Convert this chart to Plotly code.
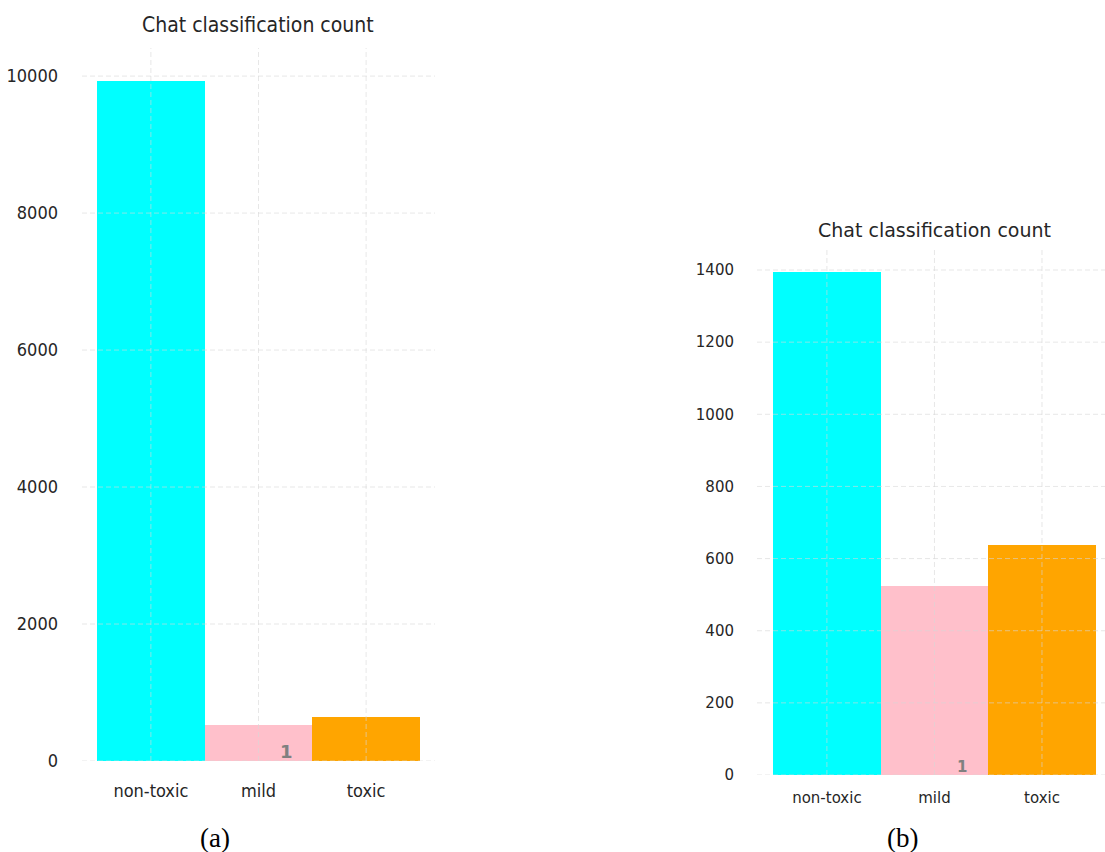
import plotly.graph_objects as go

# Chat classification counts for the two datasets
categories = ["non-toxic", "mild", "toxic"]
counts_a = [9925, 524, 637]
counts_b = [1395, 524, 637]
bar_colors = ["#00FFFF", "#FFC0CB", "#FFA500"]
ticks_a = [0, 2000, 4000, 6000, 8000, 10000]
ticks_b = [0, 200, 400, 600, 800, 1000, 1200, 1400]
marker_label = "1"
marker_label_pos = 1.26  # category offset for the small label on the mild bar
title_text = "Chat classification count"
captions = ["(a)", "(b)"]

W, H = 1105, 852
GRID = "rgba(215,215,215,0.6)"

fig = go.Figure()

fig.add_trace(go.Bar(x=[0, 1, 2], y=counts_a, marker=dict(color=bar_colors, line=dict(width=0)),
                     width=1.0, xaxis="x", yaxis="y", showlegend=False))
fig.add_trace(go.Bar(x=[0, 1, 2], y=counts_b, marker=dict(color=bar_colors, line=dict(width=0)),
                     width=1.0, xaxis="x2", yaxis="y2", showlegend=False))

left_font = dict(family="DejaVu Sans Condensed, DejaVu Sans, sans-serif", size=18, color="#262626")
right_font = dict(family="DejaVu Sans, sans-serif", size=15, color="#262626")


def px_x(p):
    return p / W


def px_y(p):
    return 1 - p / H


common = dict(showgrid=False, zeroline=False, showline=False, ticks="", automargin=False)

fig.update_layout(
    width=W, height=H,
    margin=dict(l=0, r=0, t=0, b=0, pad=0, autoexpand=False),
    paper_bgcolor="white", plot_bgcolor="white",
    bargap=0,
    xaxis=dict(domain=[px_x(82), px_x(435)], range=[-0.64, 2.64], anchor="y",
               tickmode="array", tickvals=[0, 1, 2], ticktext=categories,
               tickfont=dict(left_font, size=18), ticklabelstandoff=17, **common),
    yaxis=dict(domain=[px_y(761), px_y(48)], range=[0, 10410], anchor="x",
               tickmode="array", tickvals=ticks_a, ticktext=[str(t) for t in ticks_a],
               tickfont=left_font, ticklabelstandoff=23, **common),
    xaxis2=dict(domain=[px_x(757), 1.0], range=[-0.65, 2.586], anchor="y2",
                tickmode="array", tickvals=[0, 1, 2], ticktext=categories,
                tickfont=right_font, ticklabelstandoff=12, **common),
    yaxis2=dict(domain=[px_y(775), px_y(248)], range=[0, 1461], anchor="x2",
                tickmode="array", tickvals=ticks_b, ticktext=[str(t) for t in ticks_b],
                tickfont=right_font, ticklabelstandoff=22, **common),
)

# Faint dashed grid drawn over the bars
shapes = []
for xr, yr, ticks in (("x", "y", ticks_a), ("x2", "y2", ticks_b)):
    for t in ticks:
        shapes.append(dict(type="line", layer="above", xref=f"{xr} domain", yref=yr,
                           x0=0, x1=1, y0=t, y1=t,
                           line=dict(color=GRID, width=1, dash="5px,3px")))
    for i in range(len(categories)):
        shapes.append(dict(type="line", layer="above", xref=xr, yref=f"{yr} domain",
                           x0=i, x1=i, y0=0, y1=1,
                           line=dict(color=GRID, width=1, dash="5px,3px")))
fig.update_layout(shapes=shapes)

annotations = [
    dict(text=title_text, xref="paper", yref="paper", x=px_x(258), y=px_y(25),
         showarrow=False, xanchor="center", yanchor="middle",
         font=dict(left_font, size=21)),
    dict(text=title_text, xref="paper", yref="paper", x=px_x(934), y=px_y(230),
         showarrow=False, xanchor="center", yanchor="middle",
         font=dict(right_font, size=19)),
    dict(text=f"<b>{marker_label}</b>", xref="x", yref="y", x=marker_label_pos, y=0,
         showarrow=False, xanchor="center", yanchor="bottom", yshift=-3,
         font=dict(family="DejaVu Sans, sans-serif", size=18, color="#808080")),
    dict(text=f"<b>{marker_label}</b>", xref="x2", yref="y2", x=marker_label_pos, y=0,
         showarrow=False, xanchor="center", yanchor="bottom", yshift=-3,
         font=dict(family="DejaVu Sans, sans-serif", size=15, color="#808080")),
    dict(text=captions[0], xref="paper", yref="paper", x=px_x(215), y=px_y(838),
         showarrow=False, xanchor="center", yanchor="middle",
         font=dict(family="Liberation Serif, Times New Roman, serif", size=27, color="black")),
    dict(text=captions[1], xref="paper", yref="paper", x=px_x(902), y=px_y(838),
         showarrow=False, xanchor="center", yanchor="middle",
         font=dict(family="Liberation Serif, Times New Roman, serif", size=27, color="black")),
]
fig.update_layout(annotations=annotations)

fig.write_html("out.html")
